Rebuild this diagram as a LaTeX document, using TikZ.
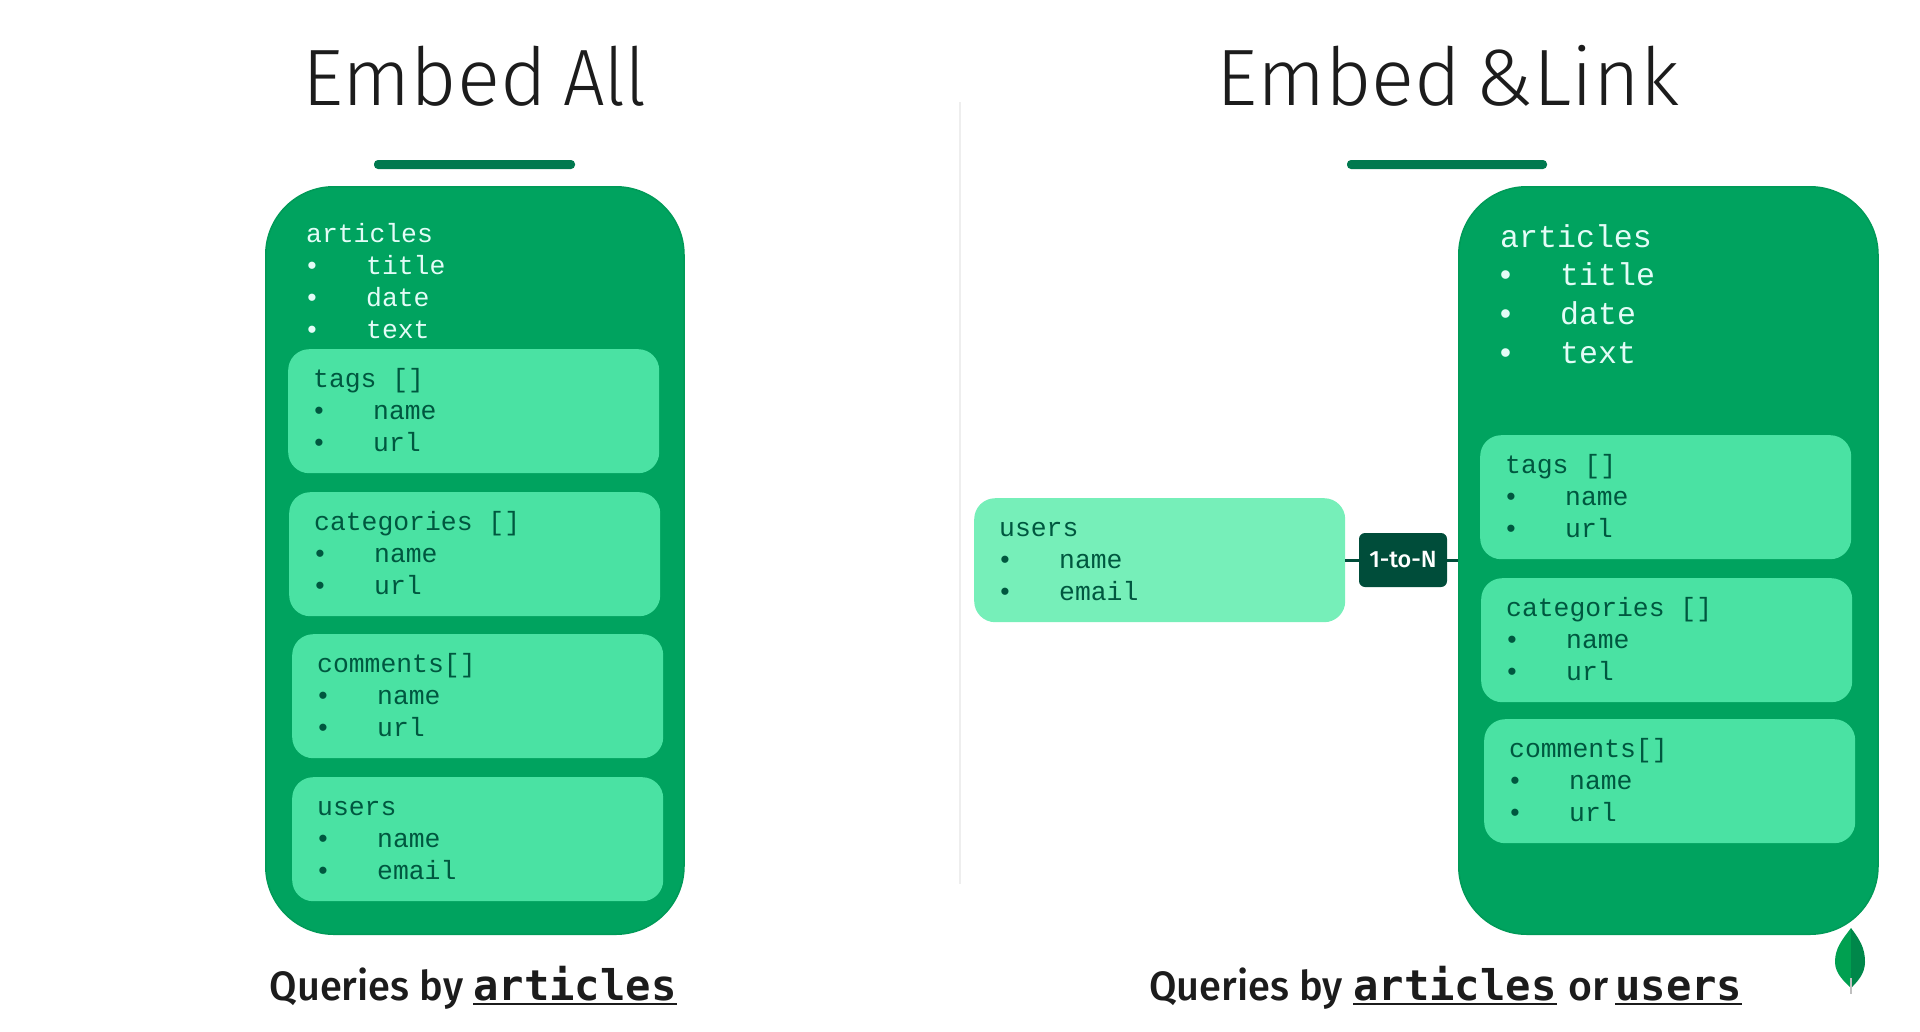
\documentclass[tikz,border=0pt]{standalone}
\usepackage{fontspec}
\setmainfont{Fira Sans}
\setmonofont{Liberation Mono}
\newfontfamily\titlefont{Fira Sans Light}
\newfontfamily\queryfont{Fira Sans Medium}
\newfontfamily\boldcode{DejaVu Sans Mono}
\definecolor{panelgreen}{HTML}{00A35F}
\definecolor{paneledge}{HTML}{009A58}
\definecolor{innergreen}{HTML}{4AE2A3}
\definecolor{palegreen}{HTML}{76EFB9}
\definecolor{darktext}{HTML}{00573F}
\definecolor{palettext}{HTML}{E3FCF7}
\definecolor{barcolor}{HTML}{00794F}
\definecolor{tagcolor}{HTML}{004D3A}
\definecolor{inkcolor}{HTML}{1C1C1C}
\definecolor{rulecolor}{HTML}{EEEEEE}
\definecolor{leafdark}{HTML}{00874A}
\definecolor{leaflight}{HTML}{00A050}
\newcommand{\fieldline}[1]{\makebox[60pt][l]{\hspace{-2pt}\textbullet}#1}
\newcommand{\bigfieldline}[1]{\makebox[60pt][l]{\hspace{-4pt}\textbullet}#1}
\newcommand{\firststrut}{\rule{0pt}{26pt}}
\newcommand{\codegap}{\hspace{.6em}}
\newcommand{\querywords}{\scalebox{.97}[1]{Queries by}}
\tikzset{
  panel/.style={draw=paneledge,line width=1.5pt,fill=panelgreen,rounded corners=68pt},
  bar/.style={fill=barcolor,rounded corners=4pt},
  fieldbox/.style={anchor=north west,fill=innergreen,rounded corners=21pt,
     minimum width=371pt,minimum height=124pt,text width=321pt,inner xsep=25pt,inner ysep=0pt,
     align=left,text=darktext,font=\fontsize{26.4}{32}\ttfamily},
  heading/.style={anchor=base,font=\fontsize{80}{80}\titlefont,text=inkcolor,inner sep=0pt},
  fieldtext/.style={anchor=north west,inner sep=0pt,align=left,text=palettext},
  querytext/.style={anchor=base west,inner sep=0pt,font=\fontsize{41}{42}\queryfont,text=inkcolor},
  querycode/.style={anchor=base west,inner sep=0pt,font=\fontsize{42.2}{42}\boldcode\bfseries,text=inkcolor},
  underline/.style={draw=inkcolor,line width=2pt},
}
\begin{document}
\begin{tikzpicture}[x=1pt,y=-1pt]
\useasboundingbox (0,0) rectangle (1920,1031);

% titles
\node[heading] (titleall) at (474.5,105) {Embed\hspace{-6pt} \scalebox{.92}[1]{All}};
\node[heading] (titlelink) at (1448,105) {Embed\hspace{-8pt} \&Link};
\fill[bar] (374,160) rectangle (575,169);
\fill[bar] (1347,160) rectangle (1547,169);
\fill[rulecolor] (959,102) rectangle (961,884);

% left side
\draw[panel] (265.75,186.75) rectangle (684,934.25);
\node[fieldtext,font=\fontsize{26.4}{32}\ttfamily] (articlesall) at (306,216)
  {\firststrut articles\\ \fieldline{title}\\ \fieldline{date}\\ \fieldline{text}};
\node[fieldbox] (tagsall) at (288,349) {\firststrut tags\codegap[]\\ \fieldline{name}\\ \fieldline{url}\strut};
\node[fieldbox] (catsall) at (289,492) {\firststrut categories\codegap[]\\ \fieldline{name}\\ \fieldline{url}\strut};
\node[fieldbox] (commentsall) at (292,634) {\firststrut comments[]\\ \fieldline{name}\\ \fieldline{url}\strut};
\node[fieldbox] (usersall) at (292,777) {\firststrut users\\ \fieldline{name}\\ \fieldline{email}\strut};

% right side
\draw[panel] (1458.75,186.75) rectangle (1878,934.25);
\node[fieldtext,font=\fontsize{31.6}{38.7}\ttfamily] (articleslink) at (1500,213)
  {\rule{0pt}{34pt}articles\\ \bigfieldline{title}\\ \bigfieldline{date}\\ \bigfieldline{text}};
\node[fieldbox] (tagslink) at (1480,435) {\firststrut tags\codegap[]\\ \fieldline{name}\\ \fieldline{url}\strut};
\node[fieldbox] (catslink) at (1481,578) {\firststrut categories\codegap[]\\ \fieldline{name}\\ \fieldline{url}\strut};
\node[fieldbox] (commentslink) at (1484,719) {\firststrut comments[]\\ \fieldline{name}\\ \fieldline{url}\strut};
\node[fieldbox,fill=palegreen] (userslink) at (974,498) {\firststrut users\\ \fieldline{name}\\ \fieldline{email}\strut};

% link between the collections
\node[fill=tagcolor,rounded corners=6pt,minimum width=88pt,minimum height=54pt,inner sep=0pt,
   text=white,font=\fontsize{23.5}{24}\queryfont] (onetoN) at (1403,560) {1-to-N};
\coordinate (panelport) at (1458,560);
\draw[tagcolor,line width=3pt] (userslink.east|-onetoN.west) -- (onetoN.west);
\draw[tagcolor,line width=3pt] (onetoN.east) -- (panelport);

% captions
\node[querytext] (queryall) at (269.5,1000) {\querywords};
\node[querycode] (codeall) at (473,1000) {articles};
\draw[underline] ([yshift=-4pt]codeall.base west) -- ([yshift=-4pt]codeall.base east);
\node[querytext] (querylink) at (1149,1000) {\querywords};
\node[querycode] (codearticles) at (1353,1000) {articles};
\node[querytext] (queryor) at (1568,1000) {or};
\node[querycode] (codeusers) at (1615,1000) {users};
\draw[underline] ([yshift=-4pt]codearticles.base west) -- ([yshift=-4pt]codearticles.base east);
\draw[underline] ([yshift=-4pt]codeusers.base west) -- ([yshift=-4pt]codeusers.base east);

% leaf
\fill[leaflight] (1851,928) .. controls (1842,940) and (1835,948) .. (1835,962)
   .. controls (1835,974) and (1845,982) .. (1851,988) -- cycle;
\fill[leafdark] (1851,928) .. controls (1860,940) and (1865,948) .. (1865,962)
   .. controls (1865,974) and (1857,982) .. (1851,988) -- cycle;
\draw[gray!50,line width=1.5pt] (1851,978) -- (1851,994);
\end{tikzpicture}
\end{document}
